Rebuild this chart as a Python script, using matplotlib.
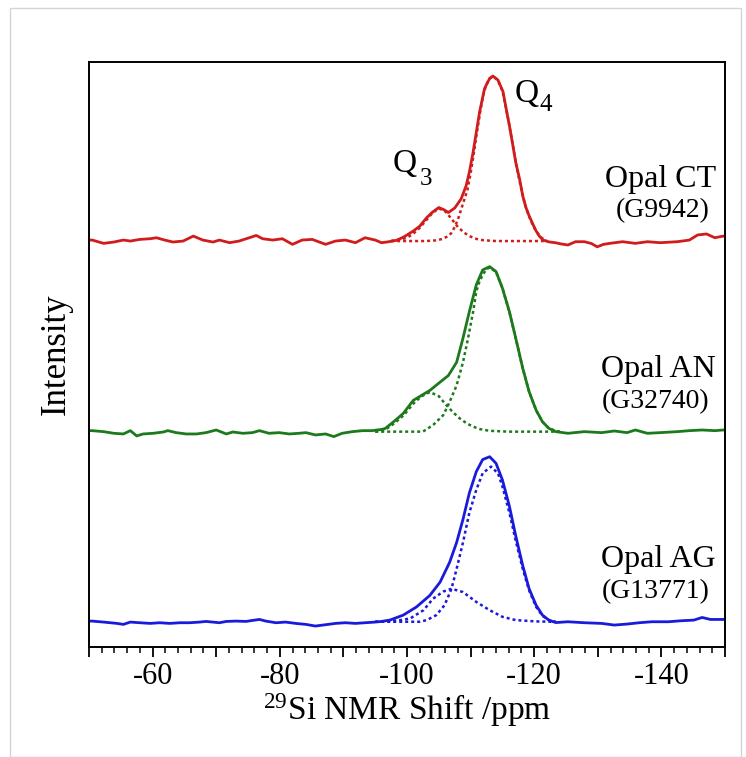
import matplotlib
matplotlib.use("Agg")
import matplotlib.pyplot as plt
from matplotlib.ticker import MultipleLocator, FuncFormatter
from matplotlib.patches import Rectangle

plt.rcParams["font.family"] = ["Liberation Serif", "DejaVu Serif"]
plt.rcParams["mathtext.fontset"] = "custom"
plt.rcParams["mathtext.rm"] = "Liberation Serif"
plt.rcParams["mathtext.it"] = "Liberation Serif:italic"
plt.rcParams["mathtext.bf"] = "Liberation Serif:bold"

# ---- data (ppm, intensity with peak = 100) ----
ct_ppm = [-50.0, -50.5, -52.3, -53.9, -55.4, -56.5, -58.0, -59.6, -60.6, -61.9, -63.2,
          -64.8, -66.4, -67.9, -69.5, -70.5, -72.1, -73.6, -75.2, -76.3, -77.3, -78.9,
          -80.4, -82.0, -83.5, -85.1, -87.2, -88.75, -90.3, -91.9, -93.4, -95.0, -96.0,
          -97.0, -98.4, -99.5, -101.0, -102.0, -103.1, -104.0, -105.0, -105.8, -106.5,
          -107.5, -108.5, -109.3, -109.8, -110.4, -110.9, -111.4, -112.2, -113.0, -113.5,
          -114.3, -115.1, -115.6, -116.1, -116.6, -117.1, -117.7, -118.2, -118.7, -119.2,
          -119.8, -120.3, -120.8, -121.4, -122.3, -123.3, -124.3, -125.3, -126.5, -127.9,
          -129.0, -129.9, -130.9, -131.9, -133.9, -135.9, -137.8, -139.8, -142.5, -144.4,
          -145.7, -147.1, -148.4, -149.7, -150.0]
ct_int = [0.6, 0.6, -1.4, -0.6, 0.6, 0.0, 1.0, 1.4, 2.0, 0.6, -0.6,
          0.0, 3.0, 0.6, -0.6, 0.6, -1.0, 0.0, 2.0, 3.4, 1.4, 0.6,
          1.4, -2.0, 0.6, 1.0, -2.0, 0.0, 0.6, -1.0, 2.0, 0.6, -1.0,
          -0.5, 0.5, 2.5, 6.1, 9.0, 14.2, 17.5, 20.3, 19.0, 17.3,
          20.0, 25.5, 33.5, 41.7, 54.0, 66.0, 78.0, 92.5, 98.6, 100.0,
          97.6, 90.5, 80.0, 70.0, 59.0, 47.6, 37.6, 27.4, 20.3, 15.3,
          10.2, 6.1, 3.0, 0.6, -0.5, -1.0, -1.8, -2.4, -0.4, -0.4,
          -1.5, -3.5, -2.0, -1.4, -0.4, -1.4, -0.4, -1.0, -0.4, 0.6,
          3.7, 4.3, 2.0, 3.0, 2.8]
ct_q3_ppm = [-97.5, -99, -100, -101, -102, -103, -104, -105, -106, -107, -108, -109,
             -110, -111, -112, -114, -121.5]
ct_q3_int = [0, 1, 2, 4.5, 8, 12.5, 17, 19.8, 18, 13.5, 8.5, 5,
             2.7, 1.2, 0.5, 0, 0]
ct_q4_ppm = [-97.5, -103, -104.5, -105.5, -106.5, -107, -107.5, -108, -108.5, -109, -109.5,
             -110, -110.5, -111, -111.5, -112, -112.5, -113, -113.5, -114, -114.5, -115,
             -115.5, -116, -116.5, -117, -117.5, -118, -118.5, -119, -119.5, -120, -120.5,
             -121, -121.5, -122]
ct_q4_int = [0, 0, 0.4, 1.2, 3, 5, 8.5, 13, 19, 25, 31,
             41, 53, 66, 78, 89, 95, 98.5, 99.5, 98.5, 95.5, 91,
             82, 72, 61, 50, 40, 31, 23, 17, 12, 8, 5,
             2.5, 1, 0]

an_ppm = [-50.0, -50.5, -52.3, -53.9, -55.4, -56.5, -57.5, -58.5, -60.1, -61.7, -62.4,
          -63.7, -65.3, -66.9, -68.4, -70.0, -71.6, -72.6, -74.2, -75.7, -76.8, -78.3,
          -79.9, -81.5, -83.0, -84.1, -85.6, -87.2, -88.5, -89.8, -91.4, -93.0, -94.5,
          -96.1, -96.6, -97.9, -99.4, -101.0, -102.3, -103.6, -105.2, -106.5, -107.8,
          -108.8, -109.8, -110.9, -111.9, -113.0, -114.0, -115.0, -116.1, -117.1, -118.2,
          -119.2, -120.3, -121.3, -122.3, -123.4, -125.3, -127.9, -130.6, -132.6, -134.6,
          -135.9, -137.8, -139.8, -142.5, -144.4, -146.4, -148.4, -149.7, -150.0]
an_int = [0.6, 0.6, 0.0, -1.0, -1.4, 0.6, -2.6, -1.4, -1.0, -0.2, 0.6,
          -0.6, -1.4, -1.4, -0.6, 1.0, -1.4, -0.2, -1.0, -0.6, 0.6, -1.0,
          -0.6, -1.4, -1.0, -0.6, -2.0, -1.4, -3.0, -1.0, 0.0, 0.6, 0.6,
          1.4, 2.0, 6.0, 11.0, 19.0, 22.0, 25.0, 30.0, 34.0, 42.0,
          56.6, 72.7, 89.0, 98.0, 100.0, 97.0, 87.0, 72.7, 56.6, 38.4,
          24.2, 13.0, 6.0, 2.0, 0.0, -1.0, 0.0, -0.6, 0.4, -0.6,
          1.0, -1.0, -0.6, 0.0, 0.6, 1.0, 0.6, 1.0, 1.0]
an_q3_ppm = [-95, -96.5, -98, -99.5, -101, -102.3, -103.6, -105, -106.2, -107.3, -108.3,
             -109.4, -110.4, -111.5, -113, -116, -124]
an_q3_int = [0, 1, 5, 10, 17, 21.5, 24, 21.5, 16, 11.5, 8,
             5, 3, 1.5, 0.5, 0, 0]
an_q4_ppm = [-95, -102.5, -104.1, -105.7, -106.7, -107.8, -108.8, -109.6, -110.4, -110.9,
             -111.4, -111.9, -112.5, -113, -114, -115, -116.1, -117.1, -118.2, -119.2,
             -120.3, -121.3, -122.3, -123.4, -124]
an_q4_int = [0, 0, 4, 10, 18, 28, 42, 56.6, 72.7, 85,
             91, 95, 98.5, 99.5, 96.8, 87, 72.5, 56.5, 38.3, 24.2,
             13, 6, 2, 0.5, 0]

ag_ppm = [-50.0, -50.5, -52.3, -54.4, -55.4, -56.5, -58.0, -59.6, -61.1, -62.7, -64.3,
          -65.8, -67.4, -68.4, -70.5, -71.6, -73.1, -74.7, -75.7, -76.8, -77.8, -79.4,
          -80.9, -82.5, -84.1, -85.6, -87.2, -88.75, -90.3, -91.9, -93.4, -95.0, -96.0,
          -97.3, -99.4, -101.5, -103.6, -105.2, -106.7, -107.8, -108.8, -109.8, -110.9,
          -111.9, -113.0, -114.0, -115.0, -116.1, -117.1, -118.2, -119.2, -120.3, -121.3,
          -122.3, -123.4, -125.3, -127.9, -130.6, -132.6, -134.6, -136.5, -138.5, -141.1,
          -143.1, -145.1, -146.4, -147.7, -149.7, -150.0]
ag_int = [0.4, 0.4, -0.2, -1.0, -1.6, -0.2, -0.6, -1.0, -0.6, -1.0, -0.6,
          -0.6, -0.2, 0.2, -0.6, 0.2, 0.4, 0.2, 0.8, 1.4, 0.4, -0.6,
          -0.2, -1.0, -1.6, -2.6, -1.8, -1.0, -0.6, -1.0, -0.6, -0.2, 0.2,
          1.0, 4.0, 9.0, 16.0, 24.0, 36.0, 48.0, 62.0, 78.0, 91.0,
          98.3, 100.0, 96.0, 86.0, 70.0, 52.0, 34.0, 20.0, 10.0, 4.0,
          1.0, -0.5, 0.0, -0.6, -1.0, -2.0, -1.4, -0.6, 0.0, 0.0,
          0.6, 1.0, 2.6, 1.4, 1.4, 1.4]
ag_q3_ppm = [-95, -97.3, -99, -100.5, -102.6, -104.1, -105.7, -107, -108.8, -110.9,
             -113, -115, -117.1, -120.3, -123]
ag_q3_int = [0, 0.3, 1, 2, 7, 14, 18.3, 20, 18, 12,
             7, 3, 1, 0.2, 0]
ag_q4_ppm = [-95, -102, -103.1, -104.6, -105.9, -107, -107.8, -108.8, -109.8, -110.9,
             -111.9, -113.2, -114.3, -115, -116.1, -117.1, -118.2, -119.2, -120.3, -121.3,
             -122.3, -123.4]
ag_q4_int = [0, 0, 1, 4, 10, 20, 32, 48, 66, 80,
             90, 94, 90, 82, 66, 49, 32, 19, 9, 3.6,
             1, 0]

names = ["Opal CT", "Opal AN", "Opal AG"]
codes = ["(G9942)", "(G32740)", "(G13771)"]
offsets = [230.7, 115.2, 0.0]
colors = ["#d01c1c", "#1c7a1c", "#1a1adc"]

spectra = [(ct_ppm, ct_int), (an_ppm, an_int), (ag_ppm, ag_int)]
fits = [[(ct_q3_ppm, ct_q3_int), (ct_q4_ppm, ct_q4_int)],
        [(an_q3_ppm, an_q3_int), (an_q4_ppm, an_q4_int)],
        [(ag_q3_ppm, ag_q3_int), (ag_q4_ppm, ag_q4_int)]]

fig = plt.figure(figsize=(7.46, 7.57), dpi=100)
# faint frame around the picture
fig.patches.append(Rectangle((10 / 746, 0.0), 731 / 746, 1 - 8 / 757, transform=fig.transFigure,
                             fill=False, edgecolor="#d4d4d4", lw=1.0))
ax = fig.add_axes([89 / 746, 1 - 647 / 757, 636 / 746, 585 / 757])

for (x, y), comps, off, c in zip(spectra, fits, offsets, colors):
    ax.plot(x, [v + off for v in y], color=c, lw=2.0, solid_joinstyle="round")
    for cx, cy in comps:
        ax.plot(cx, [v + off for v in cy], color=c, lw=1.8, linestyle=(0, (1.2, 1.2)))

for name, code, off in zip(names, codes, offsets):
    ax.text(-148.6, off + 33, name, fontsize=23, ha="right", va="baseline")
    ax.text(-147.6, off + 14.5, code, fontsize=20, ha="right", va="baseline")

# peak labels: letter and a lowered, smaller index
ax.text(-116.9, 315.0, "Q", fontsize=24, ha="left", va="baseline")
ax.text(-120.9, 309.5, "4", fontsize=18, ha="left", va="baseline")
ax.text(-97.8, 272.5, "Q", fontsize=24, ha="left", va="baseline")
ax.text(-102.0, 264.6, "3", fontsize=18, ha="left", va="baseline")

ax.set_xlim(-50, -150)
ax.set_ylim(-15.3, 339.2)
ax.set_yticks([])
ax.xaxis.set_major_locator(MultipleLocator(10))
ax.xaxis.set_minor_locator(MultipleLocator(2))
ax.xaxis.set_major_formatter(FuncFormatter(lambda v, p: f"{v:.0f}" if round(v) % 20 == 0 else ""))
ax.tick_params(axis="x", which="major", direction="out", length=7, width=1.3, labelsize=22, pad=4)
ax.tick_params(axis="x", which="minor", direction="out", length=4.5, width=1.1)
for s in ax.spines.values():
    s.set_linewidth(1.4)

ax.set_xlabel(r"$^{29}$Si NMR Shift /ppm", fontsize=24, labelpad=0)
ax.set_ylabel("Intensity", fontsize=25, labelpad=12)

fig.savefig("out.png", dpi=100)
